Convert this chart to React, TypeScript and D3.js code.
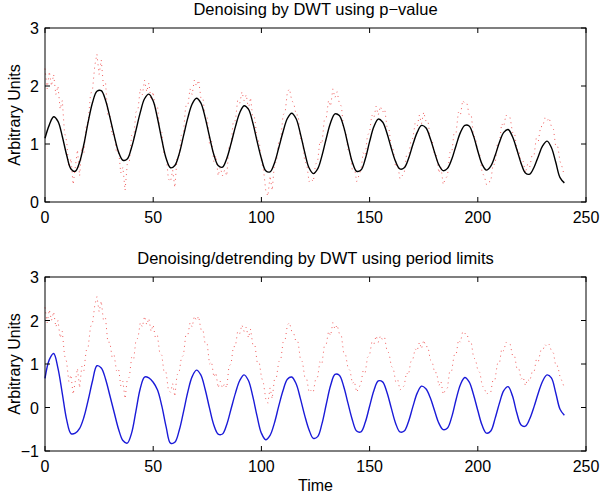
import * as d3 from 'd3'

// raw signal, one value per time step (0..240)
const raw = [
  2.3, 1.95, 2.25, 2.0, 2.2, 1.85, 2.0, 1.6, 1.75, 1.2,
  1.05, 0.6, 0.75, 0.3, 0.6, 0.9, 0.45, 0.95, 0.85, 1.3,
  1.4, 1.85, 1.95, 2.35, 2.55, 2.2, 2.45, 2.0, 2.05, 1.5,
  1.5, 1.15, 1.2, 0.85, 0.9, 0.5, 0.6, 0.2, 0.65, 0.7,
  1.15, 1.1, 1.55, 1.6, 1.95, 1.85, 2.1, 1.9, 2.05, 1.75,
  1.9, 1.6, 1.65, 1.25, 1.2, 0.8, 0.8, 0.4, 0.35, 0.55,
  0.25, 0.75, 0.8, 1.15, 1.2, 1.65, 1.65, 1.95, 1.85, 2.1,
  2.0, 2.1, 1.8, 1.8, 1.45, 1.45, 1.0, 1.05, 0.7, 0.8,
  0.45, 0.6, 0.45, 0.55, 0.45, 0.95, 1.0, 1.4, 1.4, 1.75,
  1.7, 1.9, 1.75, 1.85, 1.6, 1.8, 1.45, 1.45, 1.05, 1.05,
  0.7, 0.55, 0.2, 0.1, 0.45, 0.2, 0.65, 0.7, 1.05, 1.1,
  1.5, 1.55, 1.9, 1.95, 1.75, 1.7, 1.5, 1.5, 1.1, 1.05,
  0.7, 0.65, 0.35, 0.4, 0.35, 0.65, 0.7, 1.05, 1.0, 1.4,
  1.45, 1.75, 1.65, 1.95, 1.8, 1.9, 1.7, 1.65, 1.25, 1.2,
  0.9, 0.85, 0.55, 0.6, 0.35, 0.45, 0.55, 0.85, 0.8, 1.15,
  1.2, 1.5, 1.45, 1.65, 1.5, 1.65, 1.55, 1.6, 1.3, 1.25,
  0.95, 0.9, 0.6, 0.65, 0.4, 0.45, 0.5, 0.8, 0.75, 1.05,
  1.1, 1.35, 1.3, 1.5, 1.35, 1.55, 1.4, 1.4, 1.1, 1.05,
  0.8, 0.8, 0.5, 0.6, 0.3, 0.4, 0.45, 0.85, 0.85, 1.2,
  1.2, 1.55, 1.5, 1.75, 1.7, 1.7, 1.5, 1.5, 1.15, 1.1,
  0.85, 0.8, 0.5, 0.45, 0.3, 0.35, 0.35, 0.65, 0.65, 1.0,
  1.0, 1.35, 1.3, 1.5, 1.45, 1.45, 1.2, 1.2, 0.9, 0.9,
  0.65, 0.7, 0.5, 0.65, 0.6, 0.8, 0.8, 1.1, 1.05, 1.3,
  1.3, 1.45, 1.4, 1.45, 1.3, 1.25, 0.95, 0.95, 0.7, 0.6,
  0.45,
]

// denoised (p-value) curve, every 2 time steps (0..240)
const denoised = [
  1.10, 1.33, 1.47, 1.39, 1.13, 0.81, 0.57, 0.53, 0.69, 1.00,
  1.39, 1.72, 1.91, 1.92, 1.75, 1.46, 1.14, 0.86, 0.72, 0.74,
  0.94, 1.23, 1.54, 1.78, 1.86, 1.74, 1.44, 1.07, 0.75, 0.59,
  0.63, 0.83, 1.14, 1.45, 1.69, 1.79, 1.71, 1.46, 1.13, 0.82,
  0.63, 0.60, 0.75, 1.01, 1.30, 1.54, 1.66, 1.60, 1.37, 1.05,
  0.75, 0.54, 0.52, 0.67, 0.93, 1.21, 1.44, 1.53, 1.44, 1.18,
  0.86, 0.59, 0.49, 0.57, 0.80, 1.10, 1.37, 1.52, 1.49, 1.30,
  0.99, 0.69, 0.53, 0.55, 0.74, 1.04, 1.30, 1.43, 1.38, 1.19,
  0.93, 0.70, 0.57, 0.59, 0.75, 0.99, 1.20, 1.32, 1.28, 1.10,
  0.86, 0.64, 0.54, 0.58, 0.74, 0.98, 1.20, 1.32, 1.31, 1.14,
  0.88, 0.65, 0.55, 0.62, 0.80, 1.03, 1.20, 1.25, 1.13, 0.91,
  0.67, 0.50, 0.48, 0.60, 0.79, 0.97, 1.05, 0.94, 0.69, 0.42,
  0.33,
]

// denoised + detrended (period limits) curve, every 2 time steps (0..240)
const detrended = [
  0.67, 1.10, 1.24, 0.90, 0.32, -0.28, -0.60, -0.59, -0.48, -0.22,
  0.18, 0.62, 0.96, 0.91, 0.65, 0.27, -0.12, -0.50, -0.76, -0.82,
  -0.59, -0.09, 0.43, 0.70, 0.68, 0.58, 0.40, 0.03, -0.45, -0.82,
  -0.80, -0.53, -0.10, 0.36, 0.71, 0.86, 0.75, 0.42, -0.01, -0.40,
  -0.61, -0.61, -0.39, -0.03, 0.33, 0.62, 0.75, 0.62, 0.26, -0.20,
  -0.59, -0.74, -0.64, -0.36, 0.03, 0.39, 0.65, 0.70, 0.55, 0.21,
  -0.18, -0.51, -0.71, -0.67, -0.37, 0.08, 0.51, 0.76, 0.74, 0.49,
  0.10, -0.28, -0.54, -0.56, -0.34, 0.03, 0.39, 0.61, 0.59, 0.35,
  -0.01, -0.36, -0.56, -0.54, -0.32, 0.02, 0.33, 0.49, 0.43, 0.23,
  -0.07, -0.36, -0.51, -0.47, -0.21, 0.19, 0.53, 0.69, 0.59, 0.30,
  -0.07, -0.41, -0.59, -0.54, -0.25, 0.10, 0.39, 0.48, 0.27, -0.12,
  -0.40, -0.43, -0.26, 0.02, 0.34, 0.61, 0.75, 0.68, 0.34, -0.04,
  -0.18,
]

const xTicks = [0, 50, 100, 150, 200, 250]
const yTicksTop = [0, 1, 2, 3]
const yTicksBottom = [-1, 0, 1, 2, 3]

const W = 600
const H = 495
const FONT = '"Liberation Sans", Arial, Helvetica, sans-serif'
const FS = 16
const FS_TITLE = 16.5

type PanelProps = {
  top: number
  bottom: number
  yDomain: [number, number]
  yTicks: number[]
  title: string
  smooth: number[]
  color: string
  xLabel?: string
}

function Panel({ top, bottom, yDomain, yTicks, title, smooth, color, xLabel }: PanelProps) {
  const left = 45
  const right = 586
  const x = d3.scaleLinear().domain([0, 250]).range([left, right])
  const y = d3.scaleLinear().domain(yDomain).range([bottom, top])
  const fmt = (v: number) => (v < 0 ? '\u2212' + Math.abs(v) : String(v))

  const rawLine = d3.line<number>().x((_, i) => x(i)).y(d => y(d))
  const smoothLine = d3.line<number>()
    .x((_, i) => x(i * 2))
    .y(d => y(d))
    .curve(d3.curveCatmullRom.alpha(0.5))

  const tick = 5
  return (
    <g>
      <text x={(left + right) / 2} y={top - 13} textAnchor="middle" fontSize={FS_TITLE}>{title}</text>
      <path d={rawLine(raw) || ''} fill="none" stroke="#ec4040" strokeWidth={1} strokeDasharray="1 4" opacity={0.85} />
      <path d={smoothLine(smooth) || ''} fill="none" stroke={color} strokeWidth={1.4} />
      <rect x={left} y={top} width={right - left} height={bottom - top} fill="none" stroke="#000" strokeWidth={1} />
      {xTicks.map(t => (
        <g key={'x' + t}>
          <line x1={x(t)} x2={x(t)} y1={bottom} y2={bottom - tick} stroke="#000" />
          <line x1={x(t)} x2={x(t)} y1={top} y2={top + tick} stroke="#000" />
          <text x={x(t)} y={bottom + 21} textAnchor="middle" fontSize={FS}>{t}</text>
        </g>
      ))}
      {yTicks.map(t => (
        <g key={'y' + t}>
          <line x1={left} x2={left + tick} y1={y(t)} y2={y(t)} stroke="#000" />
          <line x1={right} x2={right - tick} y1={y(t)} y2={y(t)} stroke="#000" />
          <text x={left - 6} y={y(t) + 6} textAnchor="end" fontSize={FS}>{fmt(t)}</text>
        </g>
      ))}
      <text
        transform={`translate(20,${(top + bottom) / 2}) rotate(-90)`}
        textAnchor="middle"
        fontSize={FS}
      >
        Arbitrary Units
      </text>
      {xLabel && (
        <text x={(left + right) / 2} y={bottom + 40} textAnchor="middle" fontSize={FS}>{xLabel}</text>
      )}
    </g>
  )
}

export default function App() {
  return (
    <svg
      width={W}
      height={H}
      viewBox={`0 0 ${W} ${H}`}
      style={{ position: 'absolute', left: 0, top: 0, background: '#fff', fontFamily: FONT }}
    >
      <rect width={W} height={H} fill="#fff" />
      <Panel
        top={28}
        bottom={202}
        yDomain={[0, 3]}
        yTicks={yTicksTop}
        title={'Denoising by DWT using p\u2212value'}
        smooth={denoised}
        color="#000"
      />
      <Panel
        top={277}
        bottom={451}
        yDomain={[-1, 3]}
        yTicks={yTicksBottom}
        title="Denoising/detrending by DWT using period limits"
        smooth={detrended}
        color="#1a1ad8"
        xLabel="Time"
      />
    </svg>
  )
}
